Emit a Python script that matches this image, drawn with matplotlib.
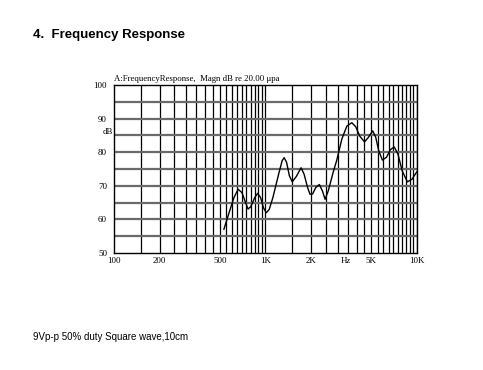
import numpy as np
import matplotlib; matplotlib.use("Agg")
import matplotlib.pyplot as plt

# response curve (Hz, dB)
freq = [532, 580, 620, 660, 700, 740, 768, 800, 850, 889, 930, 970, 1014, 1060,
        1120, 1226, 1290, 1330, 1380, 1440, 1504, 1600, 1720, 1800, 1900, 1970,
        2050, 2150, 2270, 2380, 2477, 2600, 2800, 2962, 3200, 3450, 3720, 3950,
        4200, 4515, 4800, 5110, 5350, 5600, 5920, 6300, 6700, 7090, 7500, 8000,
        8660, 9300, 10000]
mag = [57.1, 62.5, 66.5, 69.0, 68.0, 65.0, 63.1, 63.8, 66.5, 67.8, 66.5, 63.5,
       62.0, 63.0, 66.5, 73.7, 77.5, 78.4, 77.0, 73.0, 71.2, 72.8, 75.4, 73.5,
       69.5, 67.5, 67.6, 69.5, 70.4, 68.5, 66.0, 68.5, 74.0, 77.7, 84.0, 87.8,
       88.8, 87.6, 84.8, 83.1, 84.5, 86.4, 84.5, 80.5, 77.7, 78.5, 80.8, 81.6,
       79.5, 74.5, 71.2, 72.0, 74.2]

xtick_vals = [100, 200, 500, 1000, 2000, 3400, 5000, 10000]
xtick_labs = ["100", "200", "500", "1K", "2K", "Hz", "5K", "10K"]
ytick_vals = [50, 60, 70, 80, 90, 100]

serif = ["Liberation Serif", "DejaVu Serif"]
sans = ["Liberation Sans", "DejaVu Sans"]

fig = plt.figure(figsize=(4.83, 3.70), dpi=100)
ax = fig.add_axes([0.236, 0.316, 0.627, 0.454])
ax.set_xscale("log")
ax.set_xlim(100, 10000)
ax.set_ylim(50, 100)

# grid: vertical every 50 / 500, horizontal every 5 dB
vgrid = list(range(150, 1001, 50)) + list(range(1500, 10001, 500))
for v in vgrid:
    ax.axvline(v, color="black", lw=0.9, zorder=1)
for h in range(55, 100, 5):
    ax.axhline(h, color="#6a6a6a", lw=1.6, zorder=1)

ax.plot(freq, mag, color="black", lw=1.0, zorder=3)

ax.set_xticks(xtick_vals)
ax.set_xticklabels(xtick_labs)
ax.set_xticks([], minor=True)
ax.set_yticks(ytick_vals)
ax.tick_params(length=0, labelsize=6.5)
ax.tick_params(axis="x", pad=3)
ax.tick_params(axis="y", pad=5)
for t in ax.get_xticklabels() + ax.get_yticklabels():
    t.set_family(serif)
for s in ax.spines.values():
    s.set_linewidth(1.0)

ax.text(0.0, 1.015, "A:FrequencyResponse,  Magn dB re 20.00 \u03bcpa",
        transform=ax.transAxes, fontsize=6.3, family=serif, va="bottom")
ax.text(-0.005, 0.72, "dB", transform=ax.transAxes, fontsize=6.3, family=serif,
        ha="right", va="center")

fig.text(33 / 483, 1 - 35 / 370, "4.  Frequency Response", fontsize=9.5,
         fontweight="bold", family=sans, va="center")
fig.text(33 / 483, 1 - 337 / 370, "9Vp-p 50% duty Square wave,10cm", fontsize=7,
         family=sans, va="center")

fig.savefig("out.png", dpi=100)
